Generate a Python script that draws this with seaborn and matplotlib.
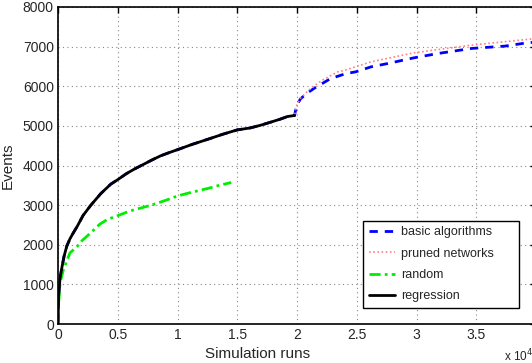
import numpy as np
import pandas as pd
import seaborn as sns
import matplotlib
matplotlib.use("Agg")
import matplotlib.pyplot as plt

# x values are in units of 1e4 simulation runs
reg_x = [0, 0.005, 0.017, 0.031, 0.05, 0.073, 0.1, 0.13, 0.162, 0.21, 0.274,
         0.358, 0.441, 0.506, 0.57, 0.636, 0.72, 0.79, 0.86, 0.93, 1.0, 1.12,
         1.28, 1.38, 1.5, 1.61, 1.7, 1.78, 1.86, 1.92, 1.98]
reg_y = [0, 700, 1150, 1400, 1700, 1962, 2150, 2310, 2470, 2740, 2995,
         3291, 3528, 3655, 3790, 3905, 4036, 4145, 4246, 4325, 4399, 4530,
         4688, 4790, 4898, 4949, 5020, 5094, 5170, 5236, 5262]

# after the regression phase the two algorithm variants continue
basic_x = [1.985, 2.0, 2.03, 2.09, 2.15, 2.21, 2.28, 2.41, 2.49, 2.62, 2.76,
           2.98, 3.18, 3.46, 3.74, 3.90, 3.98]
basic_y = [5348, 5533, 5685, 5838, 5960, 6066, 6193, 6320, 6363, 6490, 6574,
           6718, 6827, 6954, 7013, 7085, 7110]
pruned_x = [1.985, 2.0, 2.03, 2.09, 2.15, 2.21, 2.34, 2.40, 2.62, 2.98, 3.46,
            3.93, 3.98]
pruned_y = [5348, 5540, 5700, 5880, 6020, 6150, 6363, 6404, 6617, 6845, 7038,
            7183, 7200]

rand_x = [0, 0.005, 0.017, 0.045, 0.1, 0.162, 0.2, 0.274, 0.35, 0.414, 0.506,
          0.6, 0.776, 0.9, 1.0, 1.1, 1.25, 1.35, 1.45]
rand_y = [0, 500, 1033, 1371, 1794, 1962, 2100, 2302, 2520, 2640, 2741,
          2850, 2995, 3120, 3231, 3310, 3418, 3500, 3571]

sns.set_style("white")
plt.rcParams['font.family'] = ['Liberation Sans', 'DejaVu Sans']

fig = plt.figure(figsize=(5.32, 3.63), dpi=100)
ax = fig.add_axes([58 / 532, 1 - 324 / 363, 478 / 532, 317 / 363])

bx = reg_x + basic_x
by = reg_y + basic_y
px = reg_x + pruned_x
py = reg_y + pruned_y

sns.lineplot(x=bx, y=by, ax=ax, color="#0000ff", lw=2,
             linestyle=(0, (3, 2.5)), label="basic algorithms", sort=False)
sns.lineplot(x=px, y=py, ax=ax, color="#ff8080", lw=1.2,
             linestyle=(0, (1, 1.5)), label="pruned networks", sort=False)
sns.lineplot(x=rand_x, y=rand_y, ax=ax, color="#00ee00", lw=2,
             linestyle=(0, (4, 1.5, 1, 1.5)), label="random", sort=False)
sns.lineplot(x=reg_x, y=reg_y, ax=ax, color="black", lw=2,
             label="regression", sort=False)

ax.set_xlim(0, 4)
ax.set_ylim(0, 8000)
ax.set_xticks([0, 0.5, 1, 1.5, 2, 2.5, 3, 3.5, 4])
ax.set_xticklabels(["0", "0.5", "1", "1.5", "2", "2.5", "3", "3.5", "4"])
ax.set_yticks(range(0, 8001, 1000))
ax.grid(True, color="#888888", linestyle=(0, (1, 3)), lw=0.8)
ax.tick_params(direction="in", length=4, width=1, top=True, right=True,
               labelsize=10, pad=3, color="black")
for s in ax.spines.values():
    s.set_color("black")
    s.set_linewidth(1.2)

ax.set_ylabel("Events", fontsize=11, labelpad=6)
ax.set_xlabel("")
fig.text(258 / 532, 1 - 354 / 363, "Simulation runs", ha="center",
         va="center", fontsize=11)
fig.text(504 / 532, 1 - 356 / 363, r"x 10$^4$", ha="left", va="center",
         fontsize=8.5)

leg = ax.legend(loc="lower left",
                bbox_to_anchor=(363 / 532, 1 - 308 / 363, 156 / 532, 86 / 363),
                bbox_transform=fig.transFigure, mode="expand", fancybox=False,
                framealpha=1, edgecolor="black", fontsize=9, handlelength=2.1,
                borderpad=0.45, labelspacing=0.75, handletextpad=0.5,
                borderaxespad=0)
leg.get_frame().set_linewidth(1)

fig.savefig("out.png", dpi=100)
